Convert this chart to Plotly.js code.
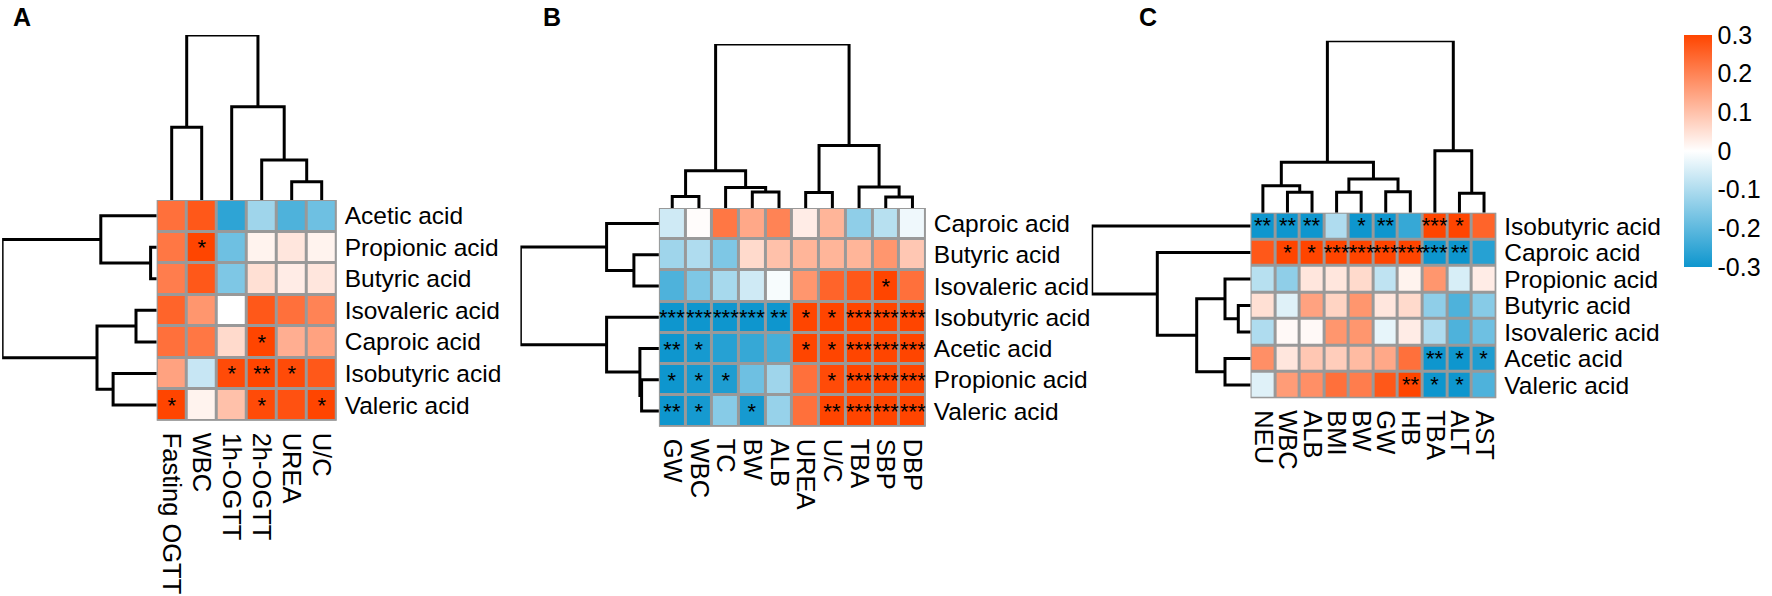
<!DOCTYPE html>
<html>
<head>
<meta charset="utf-8">
<script src="https://cdn.plot.ly/plotly-3.0.1.min.js"></script>
<style>
html,body{margin:0;padding:0;background:#fff;}
#chart{width:1772px;height:596px;}
</style>
</head>
<body>
<div id="chart"></div>
<script>
// ---------------- DATA ----------------
// Panel A
const A_cols = ['Fasting OGTT','WBC','1h-OGTT','2h-OGTT','UREA','U/C'];
const A_rows = ['Acetic acid','Propionic acid','Butyric acid','Isovaleric acid','Caproic acid','Isobutyric acid','Valeric acid'];
const A_values = [
  [ 0.23, 0.27,-0.26,-0.12,-0.22,-0.18],
  [ 0.22, 0.30,-0.18, 0.02, 0.04, 0.02],
  [ 0.21, 0.27,-0.16, 0.05, 0.03, 0.04],
  [ 0.25, 0.17, 0.00, 0.27, 0.23, 0.20],
  [ 0.23, 0.22, 0.06, 0.30, 0.13, 0.15],
  [ 0.15,-0.07, 0.29, 0.30, 0.29, 0.27],
  [ 0.30, 0.02, 0.10, 0.29, 0.28, 0.30]
];
const A_stars = [
  ['','','','','',''],
  ['','*','','','',''],
  ['','','','','',''],
  ['','','','','',''],
  ['','','','*','',''],
  ['','','*','**','*',''],
  ['*','','','*','','*']
];
// dendrogram merges: [childA, childB, height]; leaves 0..n-1, new nodes numbered n, n+1, ...
const A_col_tree = [[4,5,18.3],[3,6,40],[2,7,93.3],[0,1,72.7],[9,8,165]];
const A_row_tree = [[1,2,6.1],[0,7,55.9],[3,4,20.7],[5,6,43.6],[9,10,59.7],[8,11,154.6]];

// Panel B
const B_cols = ['GW','WBC','TC','BW','ALB','UREA','U/C','TBA','SBP','DBP'];
const B_rows = ['Caproic acid','Butyric acid','Isovaleric acid','Isobutyric acid','Acetic acid','Propionic acid','Valeric acid'];
const B_values = [
  [-0.06, 0.005, 0.22, 0.14, 0.20, 0.03, 0.12,-0.14,-0.09,-0.02],
  [-0.12,-0.10,-0.16, 0.06, 0.10, 0.12, 0.12, 0.12, 0.17, 0.09],
  [-0.22,-0.16,-0.11,-0.06,-0.01, 0.17, 0.25, 0.27, 0.30, 0.23],
  [-0.30,-0.30,-0.30,-0.30,-0.30, 0.30, 0.30, 0.30, 0.30, 0.30],
  [-0.30,-0.29,-0.27,-0.25,-0.23, 0.30, 0.30, 0.30, 0.30, 0.30],
  [-0.30,-0.29,-0.28,-0.18,-0.12, 0.23, 0.29, 0.30, 0.30, 0.30],
  [-0.30,-0.29,-0.15,-0.29,-0.13, 0.23, 0.30, 0.30, 0.30, 0.30]
];
const B_stars = [
  ['','','','','','','','','',''],
  ['','','','','','','','','',''],
  ['','','','','','','','','*',''],
  ['***','***','***','***','**','*','*','***','***','***'],
  ['**','*','','','','*','*','***','***','***'],
  ['*','*','*','','','','*','***','***','***'],
  ['**','*','','*','','','**','***','***','***']
];
const B_col_tree = [[0,1,11.6],[3,4,16],[2,11,20.6],[10,12,37.3],[5,6,15.6],[8,9,11],[7,15,21],[14,16,62.6],[13,17,164]];
const B_row_tree = [[1,2,25],[0,7,52.3],[5,6,17.3],[4,9,19],[3,10,52.3],[8,11,138.5]];

// Panel C
const C_cols = ['NEU','WBC','ALB','BMI','BW','GW','HB','TBA','ALT','AST'];
const C_rows = ['Isobutyric acid','Caproic acid','Propionic acid','Butyric acid','Isovaleric acid','Acetic acid','Valeric acid'];
const C_values = [
  [-0.30,-0.30,-0.30,-0.10,-0.30,-0.30,-0.25, 0.30, 0.30, 0.25],
  [ 0.27, 0.30, 0.30, 0.30, 0.30, 0.30, 0.30,-0.30,-0.30,-0.27],
  [-0.09,-0.14, 0.04, 0.04, 0.06,-0.08, 0.02, 0.17,-0.05, 0.03],
  [ 0.05,-0.04, 0.15, 0.07, 0.17, 0.04, 0.06,-0.14,-0.22,-0.15],
  [-0.10, 0.01, 0.01, 0.17, 0.17,-0.03, 0.03,-0.10,-0.22,-0.18],
  [ 0.18, 0.04, 0.09, 0.08, 0.11, 0.14, 0.23,-0.30,-0.30,-0.28],
  [-0.04, 0.16, 0.18, 0.23, 0.21, 0.27, 0.30,-0.30,-0.30,-0.22]
];
const C_stars = [
  ['**','**','**','','*','**','','***','*',''],
  ['','*','*','***','***','***','***','***','**',''],
  ['','','','','','','','','',''],
  ['','','','','','','','','',''],
  ['','','','','','','','','',''],
  ['','','','','','','','**','*','*'],
  ['','','','','','','**','*','*','']
];
const C_col_tree = [[1,2,20.4],[0,10,27],[3,4,20.4],[5,6,21],[12,13,33.7],[11,14,50.4],[8,9,19.4],[7,16,62],[15,17,172]];
const C_row_tree = [[3,4,12.3],[2,7,25.6],[5,6,25.6],[8,9,53.9],[1,10,93.3],[0,11,158.9]];

const panel_labels = ['A','B','C'];
const cbar_ticks = [-0.3,-0.2,-0.1,0,0.1,0.2,0.3];
const cbar_labels = ['-0.3','-0.2','-0.1','0','0.1','0.2','0.3'];

// ---------------- LAYOUT / STYLE ----------------
const W = 1772, H = 596;
const FONT = 'Liberation Sans, Arial, Helvetica, sans-serif';
const colorscale = [[0,'#0E96CE'],[0.5,'#FFFFFF'],[1,'#FF4500']];
const GRID = '#999999';
const px = p => p / W;
const py = p => 1 - p / H;

// pixel boxes of each heatmap (left, right, top, bottom)
const boxes = [
  {l:156.7, r:336.7, t:200.0, b:420.7, label:[11, 1]},
  {l:658.9, r:925.8, t:208.0, b:426.7, label:[541, 1]},
  {l:1250.6, r:1496.3, t:212.7, b:398.3, label:[1137, 1]}
];
const panels = [
  {cols:A_cols, rows:A_rows, z:A_values, s:A_stars, ct:A_col_tree, rt:A_row_tree},
  {cols:B_cols, rows:B_rows, z:B_values, s:B_stars, ct:B_col_tree, rt:B_row_tree},
  {cols:C_cols, rows:C_rows, z:C_values, s:C_stars, ct:C_col_tree, rt:C_row_tree}
];

function dendroSegments(n, tree) {
  const pos = [], hgt = [];
  for (let i = 0; i < n; i++) { pos.push(i); hgt.push(0); }
  const P = [], Hh = [];
  tree.forEach(m => {
    const [a, b, h] = m;
    P.push(pos[a], pos[a], pos[b], pos[b], null);
    Hh.push(hgt[a], h, h, hgt[b], null);
    pos.push((pos[a] + pos[b]) / 2);
    hgt.push(h);
  });
  const maxH = Math.max(...tree.map(m => m[2]));
  return {P, Hh, maxH};
}

const data = [];
const layout = {
  width: W, height: H,
  margin: {l:0, r:0, t:0, b:0, pad:0},
  paper_bgcolor: '#ffffff',
  plot_bgcolor: 'rgba(0,0,0,0)',
  font: {family: FONT, color: '#000000', size: 25},
  showlegend: false,
  shapes: [],
  annotations: []
};

panels.forEach((p, k) => {
  const bx = boxes[k];
  const hx = 'x' + (k*2+1 === 1 ? '' : (k*2+1));
  const hy = 'y' + (k*2+1 === 1 ? '' : (k*2+1));
  const dx = 'x' + (k*2+2);
  const dy = 'y' + (k*2+2);
  const nC = p.cols.length, nR = p.rows.length;
  const xi = p.cols.map((_, i) => i);
  const yi = p.rows.map((_, i) => i);

  data.push({
    type: 'heatmap', z: p.z, x: xi, y: yi,
    text: p.s, texttemplate: '%{text}',
    textfont: {family: FONT, size: 22, color: '#000000'},
    colorscale: colorscale, zmin: -0.3, zmax: 0.3,
    xgap: 3, ygap: 3,
    xaxis: hx, yaxis: hy,
    hoverinfo: 'skip',
    showscale: k === 2,
    colorbar: {
      x: px(1684), xanchor: 'left', xpad: 0,
      y: py(151), yanchor: 'middle', ypad: 0,
      len: 232, lenmode: 'pixels',
      thickness: 28, thicknessmode: 'pixels',
      outlinewidth: 0, ticks: '',
      tickvals: cbar_ticks, ticktext: cbar_labels,
      tickfont: {family: FONT, size: 25, color: '#000000'}
    }
  });

  const hxKey = 'xaxis' + (k*2+1 === 1 ? '' : (k*2+1));
  const hyKey = 'yaxis' + (k*2+1 === 1 ? '' : (k*2+1));
  layout[hxKey] = {
    domain: [px(bx.l), px(bx.r)], anchor: hy,
    range: [-0.5, nC - 0.5], tickvals: xi, ticktext: p.cols,
    tickangle: 90, ticks: '', showgrid: false, zeroline: false, showline: false,
    tickfont: {family: FONT, size: 25.5, color: '#000000'},
    ticklabelstandoff: 11, fixedrange: true
  };
  layout[hyKey] = {
    domain: [py(bx.b), py(bx.t)], anchor: hx, side: 'right',
    range: [nR - 0.5, -0.5], tickvals: yi, ticktext: p.rows,
    ticks: '', showgrid: false, zeroline: false, showline: false,
    tickfont: {family: FONT, size: 24.5, color: '#000000'},
    ticklabelstandoff: 7, fixedrange: true
  };

  // grey grid background under the cells
  layout.shapes.push({
    type: 'rect', xref: hx, yref: hy, layer: 'below',
    x0: -0.5, x1: nC - 0.5, y0: -0.5, y1: nR - 0.5,
    fillcolor: GRID, line: {color: GRID, width: 2}
  });

  // column dendrogram (above)
  const cd = dendroSegments(nC, p.ct);
  data.push({
    type: 'scatter', mode: 'lines', x: cd.P, y: cd.Hh,
    xaxis: hx, yaxis: dy, cliponaxis: false, hoverinfo: 'skip',
    line: {color: '#000000', width: 3}
  });
  layout['yaxis' + (k*2+2)] = {
    domain: [py(bx.t), py(bx.t - cd.maxH)], anchor: hx,
    range: [0, cd.maxH], visible: false, fixedrange: true
  };

  // row dendrogram (left)
  const rd = dendroSegments(nR, p.rt);
  data.push({
    type: 'scatter', mode: 'lines', x: rd.Hh, y: rd.P,
    xaxis: dx, yaxis: hy, cliponaxis: false, hoverinfo: 'skip',
    line: {color: '#000000', width: 3}
  });
  layout['xaxis' + (k*2+2)] = {
    domain: [px(bx.l - rd.maxH), px(bx.l)], anchor: hy,
    range: [rd.maxH, 0], visible: false, fixedrange: true
  };

  layout.annotations.push({
    text: panel_labels[k], xref: 'paper', yref: 'paper',
    x: px(bx.label[0]), y: py(bx.label[1]), xanchor: 'left', yanchor: 'top',
    showarrow: false, font: {family: FONT, size: 25, weight: 700, color: '#000000'}
  });
});

Plotly.newPlot('chart', data, layout, {staticPlot: true, displayModeBar: false});
</script>
</body>
</html>
